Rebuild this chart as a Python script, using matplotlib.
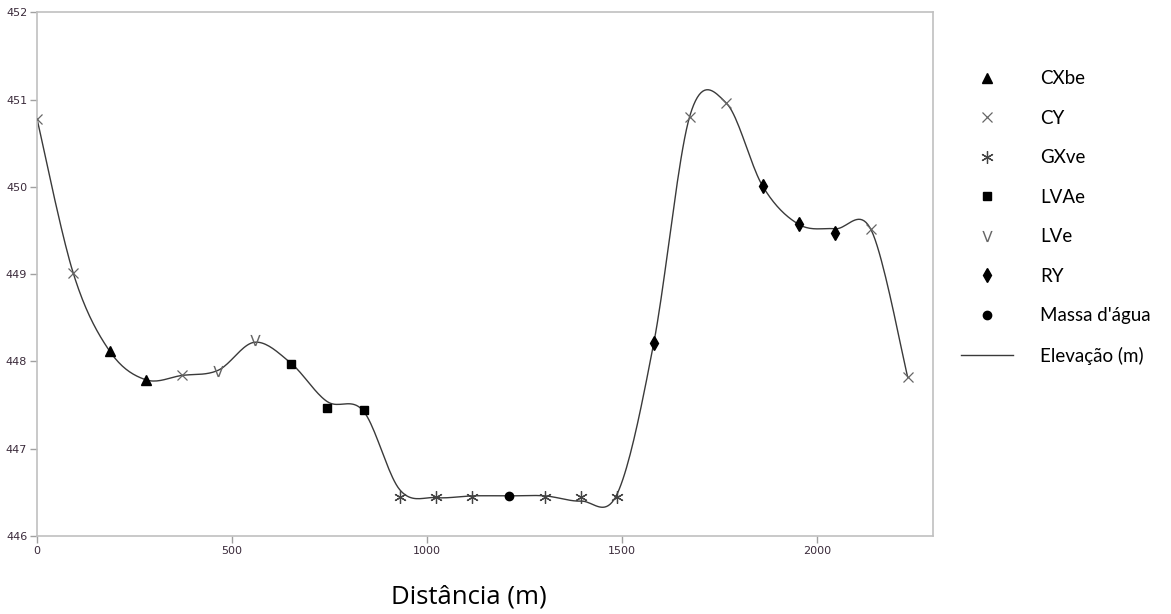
import matplotlib
matplotlib.use("Agg")
import matplotlib.pyplot as plt
import numpy as np

# Elevation profile (distance m, elevation m), one reading every 93 m
elev_dist = [0, 93, 186, 279, 372, 465, 558, 651, 744, 837, 930, 1023, 1116,
             1209, 1302, 1395, 1488, 1581, 1674, 1767, 1860, 1953, 2046, 2139, 2232]
elev_val = [450.78, 449.01, 448.12, 447.79, 447.84, 447.90, 448.22, 447.98, 447.54,
            447.43, 446.53, 446.44, 446.46, 446.46, 446.46, 446.40, 446.49, 448.21,
            450.82, 450.96, 450.01, 449.57, 449.52, 449.50, 447.82]

# Soil class sample points
cxbe_x = [186, 279]
cxbe_y = [448.12, 447.79]
cy_x = [0, 93, 372, 1674, 1767, 2139, 2232]
cy_y = [450.78, 449.01, 447.85, 450.80, 450.96, 449.52, 447.82]
gxve_x = [930, 1023, 1116, 1302, 1395, 1488]
gxve_y = [446.45, 446.45, 446.45, 446.45, 446.45, 446.45]
lvae_x = [651, 744, 837]
lvae_y = [447.97, 447.47, 447.44]
lve_x = [465, 558]
lve_y = [447.89, 448.24]
ry_x = [1581, 1860, 1953, 2046]
ry_y = [448.21, 450.01, 449.57, 449.47]
agua_x = [1209]
agua_y = [446.46]


def smooth(xs, ys, n=20):
    # Catmull-Rom style smoothing, like a "smoothed line" chart
    p = np.column_stack([xs, ys]).astype(float)
    p = np.vstack([p[0], p, p[-1]])
    out = []
    t = np.linspace(0, 1, n, endpoint=False)[:, None]
    for i in range(1, len(p) - 2):
        p0, p1, p2, p3 = p[i - 1], p[i], p[i + 1], p[i + 2]
        seg = 0.5 * ((2 * p1) + (-p0 + p2) * t + (2 * p0 - 5 * p1 + 4 * p2 - p3) * t ** 2
                     + (-p0 + 3 * p1 - 3 * p2 + p3) * t ** 3)
        out.append(seg)
    out.append(p[-2][None, :])
    out = np.vstack(out)
    return out[:, 0], out[:, 1]


fig = plt.figure(figsize=(11.71, 6.14), dpi=100)
ax = fig.add_axes([0.0316, 0.127, 0.7652, 0.853])

sx, sy = smooth(elev_dist, elev_val)
line, = ax.plot(sx, sy, color='#3a3a3a', lw=1.0, label='Elevação (m)', zorder=2)

grey = '#666666'
h1, = ax.plot(cxbe_x, cxbe_y, ls='none', marker='^', ms=7, color='black', label='CXbe', zorder=3)
h2, = ax.plot(cy_x, cy_y, ls='none', marker='x', ms=7, mew=0.9, color=grey, label='CY', zorder=3)
h3, = ax.plot(gxve_x, gxve_y, ls='none', marker=(6, 2, 0), ms=9, mew=0.9, color='#444444', label='GXve', zorder=3)
h4, = ax.plot(lvae_x, lvae_y, ls='none', marker='s', ms=6, color='black', label='LVAe', zorder=3)
h5, = ax.plot(lve_x, lve_y, ls='none', marker='$\\mathrm{V}$', ms=8, mew=0, color=grey, label='LVe', zorder=3)
h6, = ax.plot(ry_x, ry_y, ls='none', marker='d', ms=7, color='black', label='RY', zorder=3)
h7, = ax.plot(agua_x, agua_y, ls='none', marker='o', ms=6, color='black', label="Massa d'água", zorder=3)

ax.set_xlim(0, 2297)
ax.set_ylim(446, 452)
ax.set_xticks([0, 500, 1000, 1500, 2000])
ax.set_yticks([446, 447, 448, 449, 450, 451, 452])
for s in ax.spines.values():
    s.set_color('#c0c0c0')
    s.set_linewidth(1.2)
ax.tick_params(axis='both', color='#a0a0a0', length=5, width=1,
               labelsize=8, labelcolor='#3a2a3a', pad=2)
for lab in ax.get_xticklabels() + ax.get_yticklabels():
    lab.set_family(['Liberation Sans Narrow', 'DejaVu Sans'])

fig.text(0.40, 0.028, 'Distância (m)', fontsize=18.5, ha='center', va='center',
         family=['Open Sans', 'DejaVu Sans'])

fig.legend(handles=[h1, h2, h3, h4, h5, h6, h7, line], loc='upper left',
           bbox_to_anchor=(0.806, 0.913), frameon=False,
           labelspacing=1.2, handlelength=2.8, handletextpad=1.45,
           prop={'family': ['Lato', 'DejaVu Sans'], 'size': 13.5})

fig.savefig('out.png', dpi=100)
